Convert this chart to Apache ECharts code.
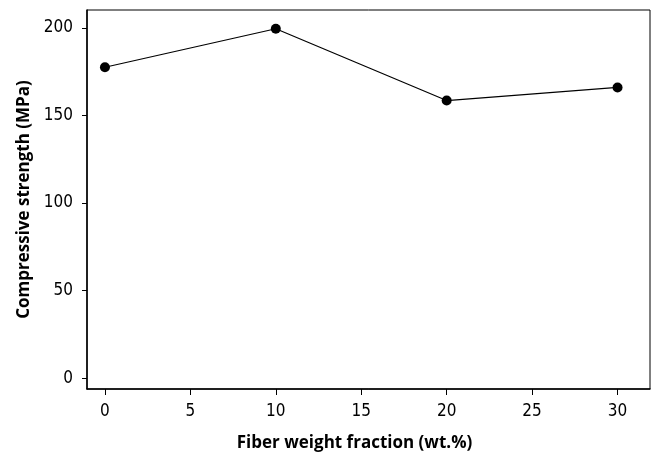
<!DOCTYPE html>
<html>
<head>
<meta charset="utf-8">
<script src="https://cdn.jsdelivr.net/npm/echarts@6/dist/echarts.min.js"></script>
<style>html,body{margin:0;padding:0;background:#fff}#c{width:660px;height:457px}</style>
</head>
<body>
<div id="c"></div>
<script>
const fiberFraction = [0, 10, 20, 30];
const strength = [177.5, 199.5, 158.5, 166];
const xTicks = [0, 5, 10, 15, 20, 25, 30];
const yTicks = [0, 50, 100, 150, 200];

const chart = echarts.init(document.getElementById('c'), null, {renderer: 'canvas'});
const labelFont = {color: '#000', fontSize: 17, fontFamily: '"Liberation Sans Narrow","DejaVu Sans Condensed",sans-serif'};
const nameFont = {color: '#000', fontSize: 17, fontWeight: 'bold', fontFamily: '"Open Sans","DejaVu Sans",sans-serif'};
chart.setOption({
  animation: false,
  backgroundColor: '#fff',
  grid: {left: 87, right: 10, top: 10, bottom: 64, show: true, borderColor: '#000', borderWidth: 1},
  xAxis: {
    type: 'value', min: -1.05, max: 31.9,
    name: 'Fiber weight fraction (wt.%)', nameLocation: 'middle', nameGap: 46,
    nameTextStyle: Object.assign({padding: [0, 28, 0, 0]}, nameFont),
    axisLine: {show: true, onZero: false, lineStyle: {color: '#000', width: 1.5}},
    axisTick: {show: true, inside: false, length: 6, lineStyle: {color: '#000'}, customValues: xTicks},
    axisLabel: Object.assign({margin: 14, customValues: xTicks}, labelFont),
    splitLine: {show: false}
  },
  yAxis: {
    type: 'value', min: -6.2, max: 210.2,
    name: 'Compressive strength (MPa)', nameLocation: 'middle', nameGap: 48,
    nameTextStyle: nameFont,
    axisLine: {show: true, onZero: false, lineStyle: {color: '#000', width: 1.5}},
    axisTick: {show: true, inside: false, length: 5, lineStyle: {color: '#000'}, customValues: yTicks},
    axisLabel: Object.assign({margin: 14, customValues: yTicks}, labelFont),
    splitLine: {show: false}
  },
  series: [{
    type: 'line',
    data: fiberFraction.map((x, i) => [x, strength[i]]),
    symbol: 'circle', symbolSize: 10,
    lineStyle: {color: '#000', width: 1.2},
    itemStyle: {color: '#000'}
  }]
});
</script>
</body>
</html>
